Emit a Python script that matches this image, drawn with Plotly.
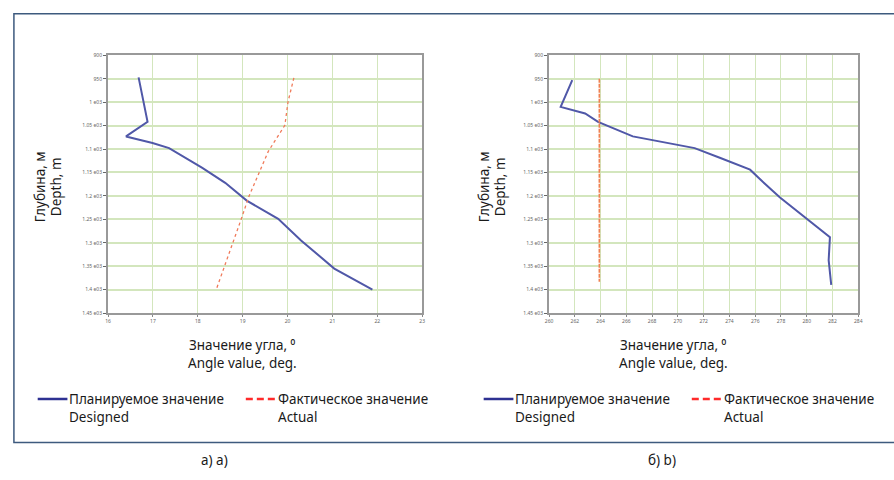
import plotly.graph_objects as go

W, H = 894, 480

# ---------------- data ----------------
depth_ticks = [900, 950, 1000, 1050, 1100, 1150, 1200, 1250, 1300, 1350, 1400, 1450]
depth_tick_text = ["900", "950", "1 e03", "1.05 e03", "1.1 e03", "1.15 e03", "1.2 e03",
                   "1.25 e03", "1.3 e03", "1.35 e03", "1.4 e03", "1.45 e03"]

# panel a)
a_x_ticks = [16, 17, 18, 19, 20, 21, 22, 23]
a_designed_angle = [16.68, 16.81, 16.88, 16.40, 16.99, 17.36, 18.10, 18.61, 19.09, 19.79, 20.30, 21.04, 21.89]
a_designed_depth = [947, 1006, 1042, 1073, 1087, 1098, 1140, 1172, 1210, 1249, 1295, 1355, 1400]
a_actual_angle = [20.14, 20.01, 19.94, 19.57, 19.13, 18.98, 18.41]
a_actual_depth = [948, 999, 1049, 1105, 1203, 1246, 1400]

# panel b)
b_x_ticks = [260, 262, 264, 266, 268, 270, 272, 274, 276, 278, 280, 282, 284]
b_designed_angle = [261.8, 260.9, 262.8, 263.8, 266.5, 267.9, 271.3, 273.3, 275.6, 276.4, 277.9, 281.8, 281.7, 281.9]
b_designed_depth = [953, 1010, 1024, 1042, 1073, 1080, 1098, 1119, 1144, 1165, 1203, 1288, 1337, 1390]
b_actual_angle = [263.9, 263.9]
b_actual_depth = [950, 1383]

# ---------------- helpers ----------------
def px(x):
    return x / W

def py(y):
    return 1 - y / H

BLUE_LINE = "#5058a8"
RED_LINE = "#f07a5a"
GRID = "#d3e6bd"
FONT = "Noto Sans"

fig = go.Figure()

fig.add_trace(go.Scatter(x=a_designed_angle, y=a_designed_depth, mode="lines",
                         line=dict(color=BLUE_LINE, width=2), xaxis="x", yaxis="y",
                         showlegend=False))
fig.add_trace(go.Scatter(x=a_actual_angle, y=a_actual_depth, mode="lines",
                         line=dict(color=RED_LINE, width=1.3, dash="dot"), xaxis="x", yaxis="y",
                         showlegend=False))
fig.add_trace(go.Scatter(x=b_designed_angle, y=b_designed_depth, mode="lines",
                         line=dict(color=BLUE_LINE, width=2), xaxis="x2", yaxis="y2",
                         showlegend=False))
fig.add_trace(go.Scatter(x=b_actual_angle, y=b_actual_depth, mode="lines",
                         line=dict(color="#f08050", width=1.6, dash="4px,1px"), xaxis="x2", yaxis="y2",
                         showlegend=False))

tickfont = dict(family=FONT, size=5, color="#666")

def xaxis(domain, ticks, anchor):
    return dict(domain=domain, range=[ticks[0], ticks[-1]], tickvals=ticks,
                ticktext=[str(t) for t in ticks], showgrid=True, gridcolor=GRID, gridwidth=1,
                showline=True, linecolor="#999", linewidth=2, mirror=True,
                ticks="outside", ticklen=2, tickcolor="#888", tickfont=tickfont,
                zeroline=False, anchor=anchor, fixedrange=True)

def yaxis(domain, anchor):
    return dict(domain=domain, range=[depth_ticks[-1], depth_ticks[0]], tickvals=depth_ticks,
                ticktext=depth_tick_text, showgrid=True, gridcolor=GRID, gridwidth=2,
                showline=True, linecolor="#999", linewidth=2, mirror=True,
                ticks="outside", ticklen=3, tickcolor="#666", tickfont=tickfont,
                zeroline=False, anchor=anchor, fixedrange=True)

fig.update_layout(
    width=W, height=H,
    margin=dict(l=0, r=0, t=0, b=0),
    paper_bgcolor="white", plot_bgcolor="white",
    xaxis=xaxis([px(105), px(422)], a_x_ticks, "y"),
    yaxis=yaxis([py(314), py(53)], "x"),
    xaxis2=xaxis([px(550), px(862)], b_x_ticks, "y2"),
    yaxis2=yaxis([py(314), py(53)], "x2"),
    showlegend=False,
)

shapes = []
annotations = []

# outer frame
shapes.append(dict(type="rect", xref="paper", yref="paper",
                   x0=px(10), x1=px(910), y0=py(445), y1=py(11),
                   line=dict(color="#3d5a7e", width=1.5), fillcolor="rgba(0,0,0,0)"))

txt = dict(family=FONT, size=13.5, color="#1a1a1a")

for off, ttl_cx, yt_x in [(0, 241, 36), (450, 676, 484)]:
    # x-axis title
    annotations.append(dict(text="Значение угла, ⁰", x=px(ttl_cx), y=py(346), xref="paper", yref="paper",
                            showarrow=False, font=txt, xanchor="center", yanchor="middle"))
    annotations.append(dict(text="Angle value, deg.", x=px(ttl_cx), y=py(365), xref="paper", yref="paper",
                            showarrow=False, font=txt, xanchor="center", yanchor="middle"))
    # y-axis titles
    annotations.append(dict(text="Глубина, м", x=px(yt_x), y=py(186), xref="paper", yref="paper",
                            showarrow=False, font=txt, textangle=-90, xanchor="center", yanchor="middle"))
    annotations.append(dict(text="Depth, m", x=px(yt_x + 16), y=py(186), xref="paper", yref="paper",
                            showarrow=False, font=txt, textangle=-90, xanchor="center", yanchor="middle"))
    # legend
    shapes.append(dict(type="line", xref="paper", yref="paper",
                       x0=px(34 + off), x1=px(64 + off), y0=py(401), y1=py(401),
                       line=dict(color="#2e3192", width=2.5)))
    shapes.append(dict(type="line", xref="paper", yref="paper",
                       x0=px(244 + off), x1=px(274 + off), y0=py(401), y1=py(401),
                       line=dict(color="#ff2a2a", width=2.5, dash="7px,4px")))
    annotations.append(dict(text="Планируемое значение", x=px(64 + off), y=py(401), xref="paper", yref="paper",
                            showarrow=False, font=txt, xanchor="left", yanchor="middle"))
    annotations.append(dict(text="Designed", x=px(64 + off), y=py(419), xref="paper", yref="paper",
                            showarrow=False, font=txt, xanchor="left", yanchor="middle"))
    annotations.append(dict(text="Фактическое значение", x=px(274 + off), y=py(401), xref="paper", yref="paper",
                            showarrow=False, font=txt, xanchor="left", yanchor="middle"))
    annotations.append(dict(text="Actual", x=px(274 + off), y=py(419), xref="paper", yref="paper",
                            showarrow=False, font=txt, xanchor="left", yanchor="middle"))

annotations.append(dict(text="а) a)", x=px(212), y=py(463), xref="paper", yref="paper",
                        showarrow=False, font=txt, xanchor="center", yanchor="middle"))
annotations.append(dict(text="б) b)", x=px(664), y=py(463), xref="paper", yref="paper",
                        showarrow=False, font=txt, xanchor="center", yanchor="middle"))

fig.update_layout(shapes=shapes, annotations=annotations)

fig.write_html("out.html")
